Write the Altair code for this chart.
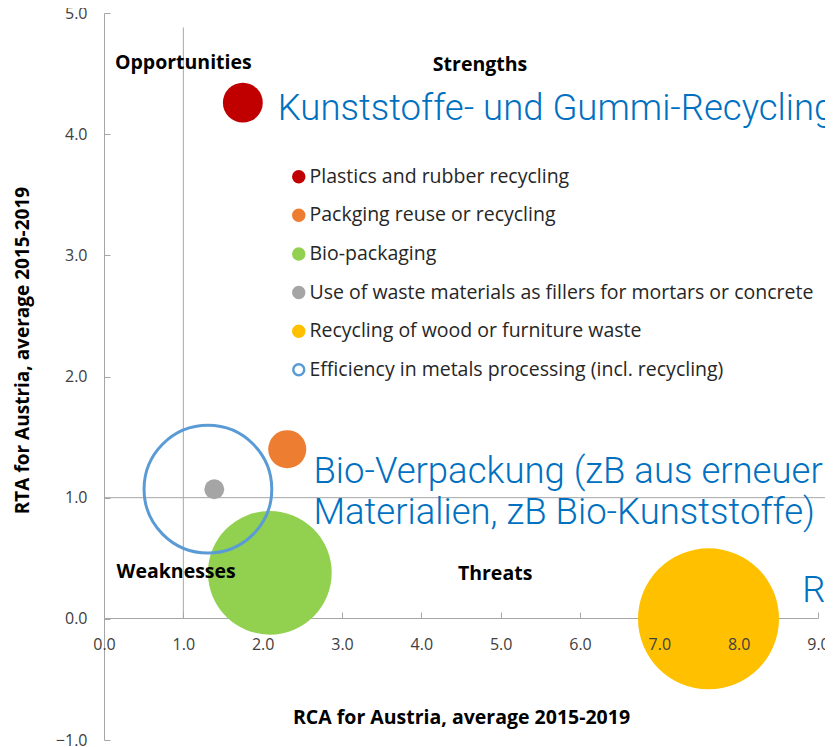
import altair as alt
import pandas as pd

# ---- data ----
categories = [
    "Plastics and rubber recycling",
    "Packging reuse or recycling",
    "Bio-packaging",
    "Use of waste materials as fillers for mortars or concrete",
    "Recycling of wood or furniture waste",
    "Efficiency in metals processing (incl. recycling)",
]
rca = [1.75, 2.31, 2.09, 1.39, 7.62, 1.31]
rta = [4.26, 1.40, 0.38, 1.07, 0.00, 1.07]
bubble = [8.0, 7.3, 77, 2.0, 100, 82]
hollow = [False, False, False, False, False, True]
fill_colors = ["#C00000", "#ED7D31", "#92D050", "#A5A5A5", "#FFC000", "transparent"]
stroke_colors = ["#C00000", "#ED7D31", "#92D050", "#A5A5A5", "#FFC000", "#5B9BD5"]

quad_labels = ["Opportunities", "Strengths", "Weaknesses", "Threats"]
quad_x = [1.00, 4.74, 0.91, 4.93]
quad_y = [4.59, 4.57, 0.39, 0.37]

ann_text = [
    "Kunststoffe- und Gummi-Recycling",
    "Bio-Verpackung (zB aus erneuerbaren",
    "Materialien, zB Bio-Kunststoffe)",
    "Recycling von Holz- oder Möbelabfällen",
]
ann_x = [2.19, 2.64, 2.64, 8.80]
ann_y = [4.21, 1.21, 0.87, 0.23]

vline_x = [1.0]
vline_y = [0.0]
vline_y2 = [4.88]
hline_y = [1.0]
hline_x = [0.0]
hline_x2 = [9.5]

x_ticks = [0, 1, 2, 3, 4, 5, 6, 7, 8, 9]
y_ticks = [-1, 0, 1, 2, 3, 4, 5]

df_pts = pd.DataFrame({"category": categories, "x": rca, "y": rta,
                       "bubble": bubble, "hollow": hollow})
df_quad = pd.DataFrame({"label": quad_labels, "x": quad_x, "y": quad_y})
df_ann = pd.DataFrame({"label": ann_text, "x": ann_x, "y": ann_y})
df_v = pd.DataFrame({"x": vline_x, "y": vline_y, "y2": vline_y2})
df_h = pd.DataFrame({"y": hline_y, "x": hline_x, "x2": hline_x2})

W, H = 714, 727
XAX = 122  # pixels from bottom of plot to the y=0 line
GREY = "#A6A6A6"
LABEL = "#404040"

xscale = alt.Scale(domain=[0, 9], nice=False, zero=False)
yscale = alt.Scale(domain=[-1, 5], nice=False, zero=False)

x_axis_main = alt.Axis(
    values=x_ticks, format=".1f", grid=False, ticks=False, labelFlush=False,
    domain=False, zindex=1,
    labelColor=LABEL, labelFont="Open Sans", labelFontSize=16,
    labelPadding=18, offset=-XAX, title="RCA for Austria, average 2015-2019",
    titleFont="Open Sans", titleFontSize=19.5, titleFontWeight="bold", titleColor="#000000",
    titleX=W / 2, titleY=99, titleBaseline="middle",
)
y_axis_main = alt.Axis(
    values=y_ticks, format=".1f", grid=False, ticks=False, labelFlush=False,
    domainColor=GREY, labelColor=LABEL, labelFont="Open Sans", labelFontSize=16,
    labelPadding=17, title="RTA for Austria, average 2015-2019",
    titleFont="Open Sans", titleFontSize=19, titleFontWeight="bold", titleColor="#000000",
    titleX=-82, titleY=337, titleAngle=270, titleBaseline="middle",
)
x_axis_ticks = alt.Axis(
    orient="top", offset=-(H - XAX), values=x_ticks, labels=False, domain=True,
    domainColor=GREY, grid=False, ticks=True, tickSize=6, tickColor=GREY, title=None,
)
y_axis_ticks = alt.Axis(
    orient="right", offset=-W, values=y_ticks, labels=False, domain=False,
    grid=False, ticks=True, tickSize=6, tickColor=GREY, title=None,
)

points = alt.Chart(df_pts).mark_circle(opacity=1).encode(
    x=alt.X("x:Q", scale=xscale, axis=x_axis_main),
    y=alt.Y("y:Q", scale=yscale, axis=y_axis_main),
    size=alt.Size("bubble:Q", scale=alt.Scale(domain=[0, 100], range=[0, 19881]), legend=None),
    fill=alt.Fill("category:N", scale=alt.Scale(domain=categories, range=fill_colors),
                  legend=alt.Legend(title=None)),
    stroke=alt.Stroke("category:N", scale=alt.Scale(domain=categories, range=stroke_colors),
                      legend=alt.Legend(title=None)),
    strokeWidth=alt.condition("datum.hollow", alt.value(3), alt.value(0)),
)

vrule = alt.Chart(df_v).mark_rule(color=GREY, strokeWidth=1).encode(
    x=alt.X("x:Q", scale=xscale, axis=x_axis_ticks),
    y=alt.Y("y:Q", scale=yscale, axis=y_axis_ticks),
    y2="y2:Q",
)
hrule = alt.Chart(df_h).mark_rule(color=GREY, strokeWidth=1).encode(
    x=alt.X("x:Q", scale=xscale, axis=None),
    x2="x2:Q",
    y=alt.Y("y:Q", scale=yscale, axis=None),
)

quad = alt.Chart(df_quad).mark_text(
    font="Open Sans", fontSize=19.5, fontWeight="bold", color="#000000",
    align="center", baseline="middle",
).encode(
    x=alt.X("x:Q", scale=xscale, axis=None),
    y=alt.Y("y:Q", scale=yscale, axis=None),
    text="label:N",
)

ann = alt.Chart(df_ann).mark_text(
    font="Roboto", fontSize=36.5, fontWeight=300, color="#0070C0",
    align="left", baseline="middle",
).encode(
    x=alt.X("x:Q", scale=xscale, axis=None),
    y=alt.Y("y:Q", scale=yscale, axis=None),
    text="label:N",
)

chart = alt.layer(hrule, vrule, points, quad, ann).resolve_axis(
    x="independent", y="independent"
).properties(
    width=W, height=H,
    autosize=alt.AutoSizeParams(type="none"),
    padding={"left": 96, "top": 5, "right": 7, "bottom": 10},
).configure_view(stroke=None).configure_legend(
    orient="none", legendX=185, legendY=154,
    labelFont="Open Sans", labelFontSize=19.5, labelColor="#262626",
    symbolType="circle", symbolSize=120, symbolStrokeWidth=2.5, symbolOpacity=1,
    rowPadding=16.6, labelOffset=1, padding=0, labelLimit=700,
)

chart.save("out.html", embed_options={"renderer": "svg", "actions": False})
